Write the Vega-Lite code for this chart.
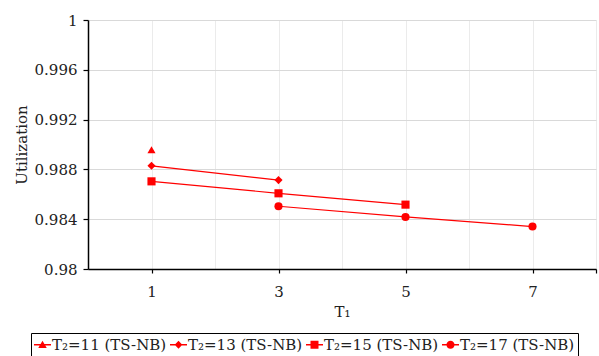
{
  "$schema": "https://vega.github.io/schema/vega-lite/v6.json",
  "width": 508,
  "height": 249,
  "autosize": "none",
  "padding": {"left": 88, "top": 20, "right": 3, "bottom": 87},
  "background": "white",
  "config": {
    "font": "DejaVu Serif",
    "view": {"stroke": null},
    "axis": {"labelFont": "DejaVu Serif", "titleFont": "DejaVu Serif", "labelColor": "#222", "titleColor": "#222"}
  },
  "data": {
    "values": [
      {"series": "T₂=11 (TS-NB)", "T1": 1, "U": 0.98957},
      {"series": "T₂=13 (TS-NB)", "T1": 1, "U": 0.98829},
      {"series": "T₂=13 (TS-NB)", "T1": 3, "U": 0.98714},
      {"series": "T₂=15 (TS-NB)", "T1": 1, "U": 0.98704},
      {"series": "T₂=15 (TS-NB)", "T1": 3, "U": 0.98608},
      {"series": "T₂=15 (TS-NB)", "T1": 5, "U": 0.98517},
      {"series": "T₂=17 (TS-NB)", "T1": 3, "U": 0.98504},
      {"series": "T₂=17 (TS-NB)", "T1": 5, "U": 0.98418},
      {"series": "T₂=17 (TS-NB)", "T1": 7, "U": 0.98341}
    ]
  },
  "encoding": {
    "x": {
      "field": "T1", "type": "quantitative",
      "scale": {"domain": [0, 8], "nice": false, "zero": false},
      "axis": {
        "values": [1, 2, 3, 4, 5, 6, 7, 8],
        "labelExpr": "datum.value % 2 == 1 ? datum.label : ''",
        "tickOpacity": {"condition": {"test": "datum.value % 2 == 1 || datum.value == 8", "value": 1}, "value": 0},
        "title": "T₁",
        "grid": true, "gridColor": "#ebebeb", "gridWidth": 1,
        "domainColor": "#000", "domainWidth": 1.5,
        "tickColor": "#000", "tickSize": 4, "tickWidth": 1.2,
        "labelPadding": 11, "titlePadding": 5,
        "labelFontSize": 15, "titleFontSize": 15, "titleFontWeight": "normal",
        "labelOverlap": false
      }
    },
    "y": {
      "field": "U", "type": "quantitative",
      "scale": {"domain": [0.98, 1], "nice": false, "zero": false},
      "axis": {
        "values": [0.98, 0.984, 0.988, 0.992, 0.996, 1],
        "format": ".3~f",
        "title": "Utilization",
        "grid": true, "gridColor": "#d9d9d9", "gridWidth": 1,
        "domainColor": "#000", "domainWidth": 1.5,
        "tickColor": "#000", "tickSize": 5, "tickWidth": 1.2,
        "labelPadding": 6, "titlePadding": 5,
        "labelFontSize": 15, "titleFontSize": 15, "titleFontWeight": "normal"
      }
    }
  },
  "layer": [
    {
      "mark": {"type": "line", "color": "#ff0000", "strokeWidth": 1.2},
      "encoding": {"detail": {"field": "series"}}
    },
    {
      "mark": {"type": "point", "filled": true, "color": "#ff0000", "size": 66, "opacity": 1},
      "encoding": {
        "shape": {
          "field": "series",
          "scale": {
            "domain": ["T₂=11 (TS-NB)", "T₂=13 (TS-NB)", "T₂=15 (TS-NB)", "T₂=17 (TS-NB)"],
            "range": ["triangle-up", "diamond", "square", "circle"]
          },
          "legend": null
        }
      }
    },
    {
      "transform": [{"filter": "false"}],
      "mark": {"type": "point", "filled": true, "color": "#ff0000", "opacity": 1},
      "encoding": {
        "shape": {
          "field": "series",
          "scale": {
            "domain": ["T₂=11 (TS-NB)", "T₂=13 (TS-NB)", "T₂=15 (TS-NB)", "T₂=17 (TS-NB)"],
            "range": [
              "M-1,-0.08H1V0.08H-1Z M0,-0.48L0.5,0.38H-0.5Z",
              "M-1,-0.08H1V0.08H-1Z M0,-0.48L0.45,0L0,0.48L-0.45,0Z",
              "M-1,-0.08H1V0.08H-1Z M-0.47,-0.47H0.47V0.47H-0.47Z",
              "M-1,-0.08H1V0.08H-1Z M0.48,0A0.48,0.48 0 1,1 -0.48,0A0.48,0.48 0 1,1 0.48,0Z"
            ]
          },
          "legend": {
            "orient": "none", "legendX": -57, "legendY": 313,
            "direction": "horizontal", "columns": 4,
            "title": null,
            "strokeColor": "#000", "fillColor": "#fff", "padding": 3,
            "symbolSize": 289, "symbolFillColor": "#ff0000", "symbolStrokeWidth": 0, "symbolOpacity": 1,
            "labelFont": "DejaVu Serif", "labelFontSize": 15, "labelColor": "#222",
            "labelOffset": 1, "columnPadding": 3, "labelLimit": 300
          }
        }
      }
    }
  ],
  "resolve": {"scale": {"shape": "independent"}}
}
